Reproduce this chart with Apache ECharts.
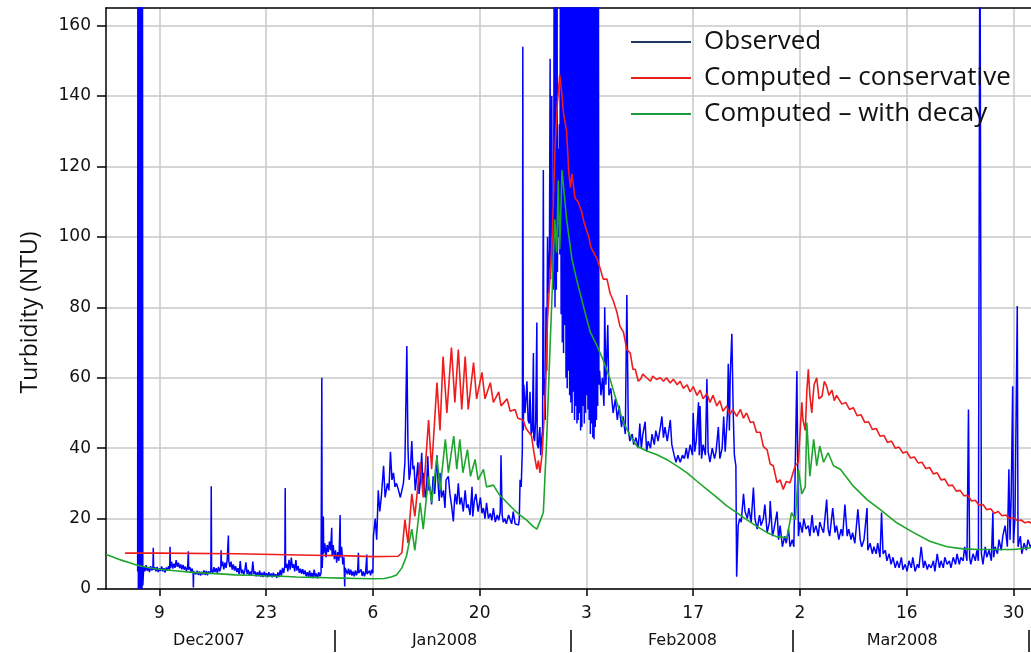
<!DOCTYPE html>
<html>
<head>
<meta charset="utf-8">
<script src="https://cdn.jsdelivr.net/npm/echarts@6/dist/echarts.min.js"></script>
<style>
html,body{margin:0;padding:0;background:#fff;}
#chart{width:1031px;height:653px;}
</style>
</head>
<body>
<div id="chart"></div>
<script>
// x values are days counted from 9 Dec 2007 (day 0)
const X_MIN = -7, X_MAX = 114.3;
const TICK_DAYS = [0, 14, 28, 42, 56, 70, 84, 98, 112];
const TICK_LABELS = ['9', '23', '6', '20', '3', '17', '2', '16', '30'];
const MONTH_BOUNDS = [23, 54, 83, 114];
const MONTH_LABEL_DAYS = [6.5, 37.4, 68.6, 97.4];
const MONTH_LABELS = ['Dec2007', 'Jan2008', 'Feb2008', 'Mar2008'];
const Y_TICKS = [0, 20, 40, 60, 80, 100, 120, 140, 160];
const SERIES_NAMES = ['Observed', 'Computed – conservative', 'Computed – with decay'];

const OBSERVED = [
[-2.85,5],[-2.82,200],[-2.76,0],[-2.70,200],[-2.64,0],[-2.58,200],[-2.52,0],[-2.46,200],[-2.40,0],[-2.34,200],[-2.28,0],[-2.22,200],[-2.17,1],
[-2.05,6.5],[-1.9,5],[-1.75,6.8],[-1.6,5.2],[-1.45,6],[-1.3,4.8],[-1.15,6.5],[-1.0,5.3],[-0.85,6],[-0.8,11.7],[-0.75,5.5],[-0.6,6.2],[-0.45,5],[-0.3,6.3],[-0.15,4.8],[0,5.8],[0.15,5.1],[0.3,6.4],[0.45,5],[0.6,5.9],[0.75,4.7],[0.9,6.1],[1.05,5.2],[1.2,6.5],[1.35,5.5],[1.4,12],[1.45,6],[1.6,7.8],[1.75,5.8],[1.9,7.2],[2.05,6],[2.2,8.2],[2.35,6.3],[2.5,7.5],[2.65,5.9],[2.8,7],[2.95,5.6],[3.1,6.8],[3.25,5.5],[3.4,6.4],[3.55,5.2],[3.7,6],[3.8,10.7],[3.85,5.5],[4.0,6.2],[4.15,4.9],[4.3,5.8],[4.42,4.8],[4.46,0.4],[4.5,5],[4.65,5.3],[4.8,4.2],[4.95,5.2],[5.1,4],[5.25,5],[5.4,3.8],[5.55,4.9],[5.7,4.1],[5.85,5.3],[6.0,4],[6.15,5.1],[6.3,3.9],[6.45,5],[6.6,4.4],[6.75,5],[6.8,29.2],[6.85,5.2],[7.0,4.6],[7.15,6.2],[7.3,4.8],[7.45,5.9],[7.6,4.5],[7.75,6.3],[7.9,5],[8.05,6],[8.1,11],[8.15,6.5],[8.3,7.8],[8.45,5.6],[8.6,7.5],[8.75,6],[8.9,8.5],[9.0,9],[9.05,15.2],[9.1,8],[9.25,6.2],[9.4,7.8],[9.55,5.5],[9.7,7],[9.85,5.2],[10.0,6.5],[10.15,4.8],[10.3,5.9],[10.45,4.2],[10.6,7.9],[10.75,4.5],[10.9,5.5],[11.05,4],[11.2,5.2],[11.35,7.6],[11.5,4.3],[11.65,5.4],[11.8,3.8],[11.95,5],[12.1,3.9],[12.25,7.8],[12.4,4.2],[12.55,5],[12.7,3.6],[12.85,4.8],[13.0,3.7],[13.15,5.2],[13.3,3.5],[13.45,4.6],[13.6,3.4],[13.75,4.9],[13.9,3.6],[14.05,4.5],[14.2,3.3],[14.35,4.8],[14.5,3.6],[14.65,4.4],[14.8,3.3],[14.95,4.6],[15.1,3.5],[15.25,4.2],[15.4,3.2],[15.55,4.7],[15.7,3.4],[15.85,5.4],[16.0,3.8],[16.15,6],[16.3,4.5],[16.45,6.5],[16.5,28.7],[16.55,6],[16.7,7.2],[16.85,5],[17.0,8.3],[17.15,5.5],[17.3,8.9],[17.45,6],[17.6,7],[17.75,5],[17.9,8.2],[18.05,5.2],[18.2,6.5],[18.35,4.6],[18.5,5.8],[18.65,4.3],[18.8,5.6],[18.95,4.2],[19.1,5.3],[19.25,3.6],[19.4,4.8],[19.55,3.4],[19.7,5.2],[19.85,3.3],[20.0,4.6],[20.15,3.1],[20.3,5.5],[20.45,3.4],[20.6,4.4],[20.75,3],[20.9,4.8],[21.05,3.6],[21.2,4.5],[21.3,60],[21.35,6],[21.45,12],[21.5,20.6],[21.55,10],[21.7,13],[21.85,9],[22.0,12.5],[22.15,10.5],[22.3,13.5],[22.45,11],[22.6,17.4],[22.65,9.5],[22.8,12.5],[22.95,8.5],[23.1,11],[23.25,7.5],[23.4,10.5],[23.55,8],[23.7,21],[23.75,9],[23.9,12],[24.05,7],[24.2,9],[24.3,0.7],[24.35,6],[24.5,5.2],[24.65,4.2],[24.8,5.8],[24.95,4],[25.1,5.5],[25.25,3.8],[25.4,5],[25.55,3.6],[25.7,5.3],[25.85,3.9],[26.0,5.2],[26.1,10.3],[26.15,4.5],[26.3,4],[26.45,5.6],[26.6,3.7],[26.75,5],[26.9,3.6],[27.05,4.8],[27.2,9.8],[27.25,4.2],[27.4,3.8],[27.55,5.2],[27.7,3.9],[27.85,5.5],[28.0,4.5],
[28.07,15],[28.3,20],[28.5,14],[28.7,28],[28.9,22],[29.1,26],[29.4,35],[29.6,26],[29.9,30],[30.1,28],[30.3,39],[30.5,31],[30.7,33],[30.9,29],[31.1,30],[31.3,28.5],[31.6,26],[31.8,28],[32.0,30],[32.2,36],[32.45,69],[32.6,40],[32.75,31],[32.9,33],[33.1,42],[33.25,34],[33.4,35],[33.55,28],[33.7,31],[33.9,36],[34.05,27],[34.2,30],[34.4,38.7],[34.55,29],[34.7,33],[34.85,26],[35.0,27],[35.2,37.7],[35.35,28],[35.5,29],[35.7,24],[35.9,32],[36.1,27],[36.4,38],[36.55,30],[36.7,25],[36.8,33],[37.0,26],[37.25,28],[37.45,23],[37.6,31],[37.9,32],[38.1,27],[38.3,24],[38.55,19.2],[38.7,25],[38.8,27],[39.0,24],[39.2,30],[39.4,24],[39.6,26],[39.85,22],[40.1,28],[40.3,23],[40.5,24],[40.75,21],[41.0,29],[41.1,20.6],[41.3,25],[41.5,27],[41.8,22],[42.1,26],[42.3,21.5],[42.5,23],[42.7,20],[42.9,24.5],[43.15,20],[43.4,21.5],[43.6,19.5],[43.8,23],[44.05,19],[44.3,21],[44.5,19.5],[44.7,22],[44.8,38],[44.95,21],[45.1,19],[45.3,20],[45.5,18.5],[45.8,21],[46.0,19.7],[46.2,18.5],[46.4,22],[46.65,18.5],[46.9,19],[47.1,18.2],[47.2,20],[47.3,31],[47.45,29],[47.6,40],[47.66,154],[47.72,45],[47.8,58],[47.95,50],[48.1,55],[48.2,59],[48.35,48],[48.5,47],[48.6,56],[48.75,44],[48.9,45],[49.05,67],[49.1,43],[49.2,42],[49.35,48],[49.5,75.7],[49.55,41],[49.7,40],[49.8,44],[49.9,46],[50.0,38],[50.1,42],[50.25,45],[50.35,119],[50.42,55],[50.5,60],[50.6,48],[50.7,80],[50.8,62],[50.9,100],[51.0,84],[51.05,88],[51.15,96],[51.24,150.6],[51.3,88],[51.35,95],[51.46,140],[51.52,100],[51.56,110],[51.64,85],[51.7,90],
[51.78,200],[51.88,80],[51.98,200],[52.06,85],[52.14,200],[52.2,90],[52.3,125],[52.38,100],[52.45,132],[52.52,95],[52.6,200],[52.68,78],[52.76,200],[52.84,70],[52.92,200],[53.0,67],[53.08,200],[53.16,75],[53.24,200],[53.32,60],[53.4,200],[53.48,57],[53.56,200],[53.64,62],[53.72,200],[53.8,55],[53.88,200],[53.96,53],[54.04,200],[54.12,50],[54.2,200],[54.28,56],[54.36,200],[54.44,48],[54.52,200],[54.6,52],[54.68,200],[54.76,47],[54.84,200],[54.92,48],[55.0,200],[55.08,50],[55.16,200],[55.24,45],[55.32,200],[55.4,46],[55.48,200],[55.56,52],[55.64,200],[55.72,47],[55.8,200],[55.88,50],[55.96,200],[56.04,55],[56.12,200],[56.2,51],[56.28,200],[56.36,48],[56.44,200],[56.52,44],[56.6,200],[56.68,47],[56.76,200],[56.84,43],[56.92,200],[57.0,42.5],[57.08,200],[57.16,46],[57.24,200],[57.32,48],[57.4,200],[57.48,52],[57.56,200],[57.64,58],
[57.73,62],[57.9,55],[58.1,60],[58.3,52],[58.4,80],[58.55,58],[58.8,75],[58.95,55],[59.2,57],[59.5,50],[59.8,54],[60.05,48],[60.3,52],[60.6,46],[60.8,49],[61.1,44],[61.3,83.5],[61.5,45],[61.7,42],[62.0,44],[62.2,41],[62.5,43],[62.8,40],[63.0,47],[63.2,40],[63.4,44],[63.7,47.5],[63.9,39],[64.1,42],[64.4,40],[64.6,44],[64.9,41],[65.1,45],[65.4,42],[65.7,46],[65.9,49],[66.1,43],[66.3,46],[66.6,42],[66.8,45],[67.0,48],[67.2,41],[67.5,38],[67.75,36],[68.0,38],[68.3,36],[68.6,38],[68.85,37],[69.1,40],[69.3,37],[69.6,41],[69.9,38],[70.0,50],[70.2,39],[70.4,42],[70.7,53],[70.8,38],[70.9,52],[71.1,37],[71.3,41],[71.6,38],[71.8,59.6],[71.96,39],[72.2,36],[72.5,40],[72.8,37],[73.0,39],[73.3,46],[73.5,37],[73.8,40],[74.0,49],[74.2,39],[74.5,50],[74.6,64],[74.75,45],[74.85,60],[75.07,72.5],[75.25,50],[75.4,38],[75.6,35],
[75.7,3.5],[75.9,18],[76.1,20],[76.3,19],[76.6,27],[76.8,22],[77.1,20],[77.3,23],[77.6,19],[77.9,28.8],[78.1,20],[78.4,17],[78.7,21],[78.9,18],[79.2,20],[79.4,24],[79.7,16],[80.0,19],[80.1,25],[80.4,15],[80.6,17],[81.0,22],[81.2,14],[81.4,18],[81.7,12],[82.0,15],[82.2,13],[82.5,17],[82.7,12],[83.0,14],[83.2,12],[83.6,61.9],[83.8,15],[84.0,19],[84.3,16],[84.5,20],[84.8,17],[85.1,18],[85.3,15],[85.6,21],[85.8,16],[86.1,18],[86.4,15],[86.6,19],[86.9,17],[87.1,16],[87.5,25.4],[87.7,17],[87.9,15],[88.3,23],[88.6,16],[88.8,18],[89.1,14],[89.4,17],[89.6,15],[89.9,24],[90.2,15],[90.4,17],[90.7,14],[90.9,16],[91.2,13],[91.6,22.6],[91.9,14],[92.1,12],[92.4,14],[92.8,23],[92.9,11],[93.2,13],[93.5,10],[93.7,12],[94.0,10],[94.2,13],[94.5,9],[94.7,21.7],[94.9,10],[95.2,11],[95.4,8],[95.7,10],[95.95,7],[96.2,9],[96.5,6],[96.75,8],[97.0,6],[97.3,9],[97.5,5.5],[97.8,7],[98.05,5],[98.3,8],[98.6,6],[98.8,9],[99.1,5],[99.4,7],[99.6,6],[99.9,12],[100.2,6],[100.4,8],[100.7,5.5],[100.9,7],[101.2,6],[101.5,8],[101.7,5],[102.0,10],[102.3,6],[102.5,8],[102.8,6],[103.0,9],[103.3,7],[103.6,8],[103.8,6],[104.1,9],[104.4,7],[104.6,10],[104.9,7],[105.1,9],[105.4,8],[105.6,12],[105.9,8],[106.1,51],[106.25,9],[106.4,7],[106.7,10],[107.0,8],[107.2,11],[107.4,8],[107.6,200],[107.8,10],[108.0,7],[108.3,12],[108.5,9],[108.8,11],[109.1,8],[109.3,21.7],[109.4,9],[109.6,12],[109.9,10],[110.1,14],[110.4,11],[110.6,15],[110.9,18],[111.2,12],[111.4,34],[111.55,14],[111.7,26],[111.9,57.6],[112.0,13],[112.2,20],[112.5,80.4],[112.6,12],[112.9,15],[113.1,10],[113.4,13],[113.7,11],[113.9,14],[114.2,12],[114.5,13]
];

const CONSERVATIVE = [
[-4.5,10.2],[0,10.2],[10,10.0],[20,9.6],[25,9.4],[28,9.2],[31.3,9.3],[31.8,10.3],[32.2,19.7],[32.6,13],[33.1,27],[33.5,20.6],[34.2,36],[34.6,26],[35.3,48],[35.7,34],[36.4,58.6],[36.8,45],[37.2,66],[37.7,50],[38.3,68.6],[38.75,53],[39.2,68],[39.65,51],[40.1,66],[40.5,51],[41.2,64.3],[41.6,54],[42.3,61.5],[42.7,54],[43.4,58.6],[43.8,53],[44.5,56],[44.8,52],[45.6,54],[46.0,50.5],[46.65,51],[47.0,48.5],[47.7,48],[48.1,45.5],[48.8,43.5],[49.1,39],[49.5,34],[49.7,36.5],[49.9,33],[50.2,38.5],[50.6,55],[50.9,76.7],[51.5,99],[51.9,126],[52.2,138],[52.5,146],[52.8,140],[53.0,135],[53.4,130],[53.7,118],[53.9,114],[54.1,118],[54.5,111],[54.9,110],[55.4,107],[55.7,104],[56.3,100],[56.6,97],[57.4,93.7],[57.8,91],[58.2,88],[58.7,88],[59.1,84],[59.5,82],[60.0,78.6],[60.4,74.6],[60.85,73],[61.3,68],[61.75,67],[62.1,62.4],[62.4,62.4],[62.8,59],[63.1,59.6],[63.4,61],[63.9,60],[64.4,59],[64.7,60.5],[65.2,59.5],[65.7,60],[66.1,59],[66.5,60],[67.0,58.5],[67.4,59.6],[67.9,58],[68.3,59],[68.7,57],[69.2,58],[69.6,56],[70.0,57.5],[70.5,55],[70.9,56.5],[71.3,54],[71.8,55.5],[72.2,53],[72.6,55],[73.1,52],[73.5,53.5],[73.9,50.5],[74.4,52],[74.8,49.5],[75.2,51],[75.7,49],[76.2,51],[76.6,48.5],[77.0,50],[77.5,47.3],[77.9,47.5],[78.3,44.5],[78.8,44.5],[79.2,40.5],[79.7,39.5],[80.1,35.5],[80.5,35],[81.0,30.2],[81.4,31],[81.8,28.3],[82.2,30.5],[82.7,30.2],[83.1,33],[83.4,35],[83.8,36],[84.0,44],[84.25,53],[84.4,48],[84.7,45],[84.9,56],[85.1,62.4],[85.3,55],[85.55,50],[85.85,58],[86.2,60],[86.5,54],[86.9,54.8],[87.2,59],[87.5,57.6],[87.8,55],[88.2,56.5],[88.5,53.5],[88.8,55],[89.0,54.5],[89.5,52.5],[90,53],[90.5,51],[91,51.5],[91.5,49.2],[92,49.5],[92.5,47.3],[93,47.5],[93.5,45.3],[94,45.6],[94.5,43.4],[95,43.6],[95.5,41.6],[96,42],[96.5,40],[97,40.3],[97.5,38.6],[98,39],[98.5,37.2],[99,37.5],[99.5,35.8],[100,36],[100.5,34.2],[101,34.5],[101.5,32.7],[102,33],[102.5,31],[103,31.2],[103.5,29.3],[104,29.5],[104.5,27.8],[105,28],[105.5,26.5],[106,26.6],[106.5,25],[107,25.2],[107.5,23.8],[108,24],[108.5,22.5],[109,22.8],[109.5,21.5],[110,22],[110.5,20.8],[111,21],[111.5,20],[112,20.3],[112.5,19.4],[113,19.6],[113.5,18.8],[114,19.1],[114.5,18.5]
];

const WITH_DECAY = [
[-7,9.8],[-6,9],[-5,8.2],[-4,7.5],[-3,6.8],[-2,6.3],[-1,5.9],[0,5.6],[2,5.2],[4,4.8],[6,4.5],[8,4.3],[10,4.0],[12,3.9],[14,3.7],[16,3.6],[18,3.4],[20,3.3],[22,3.2],[24,3.1],[26,3.0],[28,2.9],[29.5,3.0],[30.5,3.5],[31.1,4],[31.8,6],[32.4,9.3],[33.1,17],[33.5,11],[34.2,24.5],[34.6,17],[35.3,32],[35.7,24.5],[36.4,37.7],[36.8,28],[37.5,42.5],[37.9,33],[38.6,43.4],[39.0,34],[39.4,42.5],[39.8,33],[40.4,39.6],[40.8,32],[41.4,36.8],[41.8,31],[42.5,34],[42.9,29],[43.8,29.5],[44.5,27],[45.6,24.5],[46.5,22.5],[47.3,21],[48.2,19.5],[49.0,17.8],[49.5,17],[50.0,19.7],[50.35,21.7],[50.8,43],[51.2,67],[51.45,81],[51.85,105],[52.1,95.6],[52.3,116],[52.5,96.5],[52.8,119],[53.4,105],[54.1,93.7],[54.7,88],[55.6,80.4],[56.5,73],[57.4,69],[58.2,65],[59.1,59.6],[60.0,53],[60.85,47.3],[61.75,43.5],[62.6,40.6],[63.9,39.2],[65.2,38.2],[66.5,36.8],[67.9,34.9],[69.2,33],[70.5,30.6],[71.8,28.3],[73.1,26],[74.4,23.6],[75.7,21.7],[77.0,19.7],[78.35,17.8],[79.7,16],[81.0,14.8],[82.3,14.6],[82.9,21.7],[83.4,19.7],[83.8,34],[84.25,27],[84.7,29],[84.9,47.3],[85.3,32],[85.8,42.5],[86.2,35],[86.6,40.6],[87.1,36],[87.7,38.7],[88.4,35],[89.3,34],[91.0,29.2],[92.8,25.4],[94.5,22.6],[96.7,18.8],[98.9,16],[101.1,13.5],[103.3,12],[105.4,11.4],[107.6,11.2],[109.8,11.2],[112,11.2],[114.3,11.7]
];

function pick(values, labels, v) {
  let best = -1, bd = 1e9;
  for (let i = 0; i < values.length; i++) {
    const d = Math.abs(values[i] - v);
    if (d < bd) { bd = d; best = i; }
  }
  return bd < 0.01 ? labels[best] : '';
}

const chart = echarts.init(document.getElementById('chart'), null, {renderer: 'canvas'});
const axisFont = 'DejaVu Sans';
const option = {
  animation: false,
  backgroundColor: '#ffffff',
  grid: {left: 106, right: 0, top: 8, bottom: 64, containLabel: false},
  xAxis: [
    {
      type: 'value', min: X_MIN, max: X_MAX, position: 'bottom',
      axisLine: {show: true, onZero: false, lineStyle: {color: '#000', width: 1.5}},
      axisTick: {show: true, customValues: TICK_DAYS, length: 7, lineStyle: {color: '#000', width: 1.5}},
      axisLabel: {customValues: TICK_DAYS, margin: 16, fontFamily: axisFont, fontSize: 17, color: '#111',
        formatter: v => pick(TICK_DAYS, TICK_LABELS, v)},
      splitLine: {show: true, lineStyle: {color: '#c8c8c8', width: 1.5}}
    },
    {
      type: 'value', min: X_MIN, max: X_MAX, position: 'bottom', offset: 41,
      axisLine: {show: false, onZero: false},
      axisTick: {show: true, customValues: MONTH_BOUNDS, length: 22, lineStyle: {color: '#000', width: 1.5}},
      axisLabel: {customValues: MONTH_LABEL_DAYS, margin: 3, fontFamily: axisFont, fontSize: 16, color: '#111',
        formatter: v => pick(MONTH_LABEL_DAYS, MONTH_LABELS, v)},
      splitLine: {show: false}
    },
    {
      type: 'value', min: X_MIN, max: X_MAX, position: 'top',
      axisLine: {show: true, onZero: false, lineStyle: {color: '#000', width: 1.5}},
      axisTick: {show: false}, axisLabel: {show: false}, splitLine: {show: false}
    }
  ],
  yAxis: {
    type: 'value', min: 0, max: 165,
    name: 'Turbidity (NTU)', nameLocation: 'middle', nameGap: 64, nameRotate: 90,
    nameTextStyle: {fontFamily: 'Open Sans', fontSize: 23, color: '#111', padding: [0, 28, 0, 0]},
    axisLine: {show: true, onZero: false, lineStyle: {color: '#000', width: 1.5}},
    axisTick: {show: true, customValues: Y_TICKS, length: 9, lineStyle: {color: '#000', width: 1.5}},
    axisLabel: {customValues: Y_TICKS, margin: 15, fontFamily: axisFont, fontSize: 17, color: '#111'},
    splitLine: {show: true, lineStyle: {color: '#c8c8c8', width: 1.5}}
  },
  legend: {
    orient: 'vertical', left: 630, top: 29, padding: 0, itemWidth: 60, itemHeight: 25, itemGap: 10,
    selectedMode: false,
    itemStyle: {opacity: 0},
    textStyle: {fontFamily: 'Open Sans', fontSize: 26, color: '#111', padding: [0, 0, 0, 8]},
    data: [
      {name: SERIES_NAMES[0], lineStyle: {color: '#1f3864', width: 2}},
      {name: SERIES_NAMES[1], lineStyle: {color: '#e8201c', width: 2}},
      {name: SERIES_NAMES[2], lineStyle: {color: '#1f9a3c', width: 2}}
    ]
  },
  series: [
    {name: SERIES_NAMES[0], type: 'line', data: OBSERVED, symbol: 'none', clip: true,
     lineStyle: {color: '#0000ff', width: 1.5}, itemStyle: {color: '#0000ff'}},
    {name: SERIES_NAMES[1], type: 'line', data: CONSERVATIVE, symbol: 'none', clip: true,
     lineStyle: {color: '#ee1c1c', width: 1.6}, itemStyle: {color: '#ee1c1c'}},
    {name: SERIES_NAMES[2], type: 'line', data: WITH_DECAY, symbol: 'none', clip: true,
     lineStyle: {color: '#1ea52c', width: 1.6}, itemStyle: {color: '#1ea52c'}}
  ]
};
chart.setOption(option);
</script>
</body>
</html>
